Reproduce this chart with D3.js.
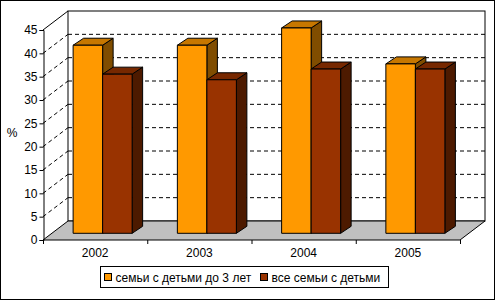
<!DOCTYPE html>
<html><head><meta charset="utf-8">
<script src="https://cdn.jsdelivr.net/npm/d3@7"></script>
<style>body{margin:0;background:#fff}svg{display:block}text{font-family:"Liberation Sans",Arial,sans-serif;font-size:12px;fill:#000}</style>
</head><body><svg id="c" width="495" height="300"></svg>
<script>
const years = ["2002", "2003", "2004", "2005"];
const seriesNames = ["семьи с детьми до 3 лет", "все семьи с детьми"];
const youngKids = [40.3, 40.3, 44.0, 36.3];
const allKids = [34.1, 32.9, 35.2, 35.2];
const yTicks = [0, 5, 10, 15, 20, 25, 30, 35, 40, 45];
const colors = ["#FF9900", "#993300"];

const svg = d3.select("#c");
const W = 495, H = 300;
const X0 = 43, X1 = 460, Y0 = 240, YT = 30;
const wall = {dx: 25, dy: -19};
const b0 = {dx: 7.5, dy: -6.7};
const bd = {dx: 10.5, dy: -7};
const FONT = '"Liberation Sans",Arial,sans-serif';

const y = d3.scaleLinear().domain([0, 45]).range([Y0, YT]);
const x = d3.scaleBand().domain(years).range([X0, X1]).padding(0);
const bw = x.bandwidth();
const groupW = bw * 0.566;
const xs = d3.scaleBand().domain([0, 1]).range([(bw - groupW) / 2, (bw + groupW) / 2]);

svg.append("rect").attr("x", 0.5).attr("y", 0.5).attr("width", W - 1).attr("height", H - 1)
  .attr("fill", "#fff").attr("stroke", "#000");

// back wall
svg.append("rect").attr("x", X0 + wall.dx).attr("y", y(45) + wall.dy)
  .attr("width", X1 - X0).attr("height", y(0) - y(45))
  .attr("fill", "#fff").attr("stroke", "#000");

// floor
const floorPts = [[X0, Y0], [X1, Y0], [X1 + wall.dx, Y0 + wall.dy], [X0 + wall.dx, Y0 + wall.dy]];
svg.append("polygon").attr("points", floorPts.map(p => p.join(",")).join(" "))
  .attr("fill", "#C0C0C0").attr("stroke", "#000");

// gridlines
const grid = yTicks.filter(t => t > 0 && t < 45);
svg.append("g").selectAll("line.bg").data(grid).join("line")
  .attr("x1", X0 + wall.dx).attr("x2", X1 + wall.dx)
  .attr("y1", d => y(d) + wall.dy).attr("y2", d => y(d) + wall.dy)
  .attr("stroke", "#000").attr("stroke-dasharray", "4,3");
svg.append("g").selectAll("line.lw").data(grid).join("line")
  .attr("x1", X0).attr("x2", X0 + wall.dx)
  .attr("y1", d => y(d)).attr("y2", d => y(d) + wall.dy)
  .attr("stroke", "#000").attr("stroke-dasharray", "4,3");
svg.append("line").attr("x1", X0).attr("y1", y(45)).attr("x2", X0 + wall.dx).attr("y2", y(45) + wall.dy).attr("stroke", "#000");

// axes
const yAxis = d3.axisLeft(y).tickValues(yTicks).tickSize(4).tickPadding(2);
const gy = svg.append("g").attr("transform", `translate(${X0 + 0.5},0)`).call(yAxis);
gy.select(".domain").attr("stroke", "#000");
gy.selectAll("text").style("font-size", "12px").style("font-family", FONT).attr("fill", "#000");

const xAxis = d3.axisBottom(x).tickSize(0).tickPadding(8);
const gx = svg.append("g").attr("transform", `translate(0,${Y0})`).call(xAxis);
gx.select(".domain").remove();
gx.selectAll("text").style("font-size", "12px").style("font-family", FONT).attr("fill", "#000");
const bounds = years.map(d => x(d)).concat([X1]);
svg.append("g").selectAll("line").data(bounds).join("line")
  .attr("x1", d => d + 0.5).attr("x2", d => d + 0.5).attr("y1", Y0).attr("y2", Y0 + 4).attr("stroke", "#000");

// bars
function shade(c, k) { const r = d3.rgb(c); return d3.rgb(r.r * k, r.g * k, r.b * k).formatHex(); }
const data = [];
years.forEach((yr, i) => { [youngKids, allKids].forEach((s, j) => data.push({yr, j, v: s[i]})); });
const bars = svg.append("g");
data.forEach(d => {
  const xl = x(d.yr) + xs(d.j) + b0.dx, xr = xl + xs.bandwidth();
  const yt = y(d.v) + b0.dy, yb = y(0) + b0.dy;
  const poly = pts => bars.append("polygon").attr("points", pts.map(p => p.join(",")).join(" "))
    .attr("stroke", "#000").attr("stroke-width", 1).attr("stroke-linejoin", "round");
  poly([[xr, yt], [xr + bd.dx, yt + bd.dy], [xr + bd.dx, yb + bd.dy], [xr, yb]]).attr("fill", shade(colors[d.j], 0.5));
  poly([[xl, yt], [xl + bd.dx, yt + bd.dy], [xr + bd.dx, yt + bd.dy], [xr, yt]]).attr("fill", shade(colors[d.j], 0.78));
  poly([[xl, yt], [xr, yt], [xr, yb], [xl, yb]]).attr("fill", colors[d.j]);
});

// % label
svg.append("text").attr("x", 12).attr("y", 137).attr("text-anchor", "middle").attr("fill", "#000").text("%");

// legend
const lg = svg.append("g");
lg.append("rect").attr("x", 100.5).attr("y", 266.5).attr("width", 288).attr("height", 21).attr("fill", "#fff").attr("stroke", "#000");
const lx = [104.5, 260.5];
seriesNames.forEach((n, i) => {
  lg.append("rect").attr("x", lx[i]).attr("y", 273.5).attr("width", 7).attr("height", 7).attr("fill", colors[i]).attr("stroke", "#000");
  lg.append("text").attr("x", lx[i] + 11).attr("y", 281.5).attr("fill", "#000").text(n);
});
</script></body></html>
